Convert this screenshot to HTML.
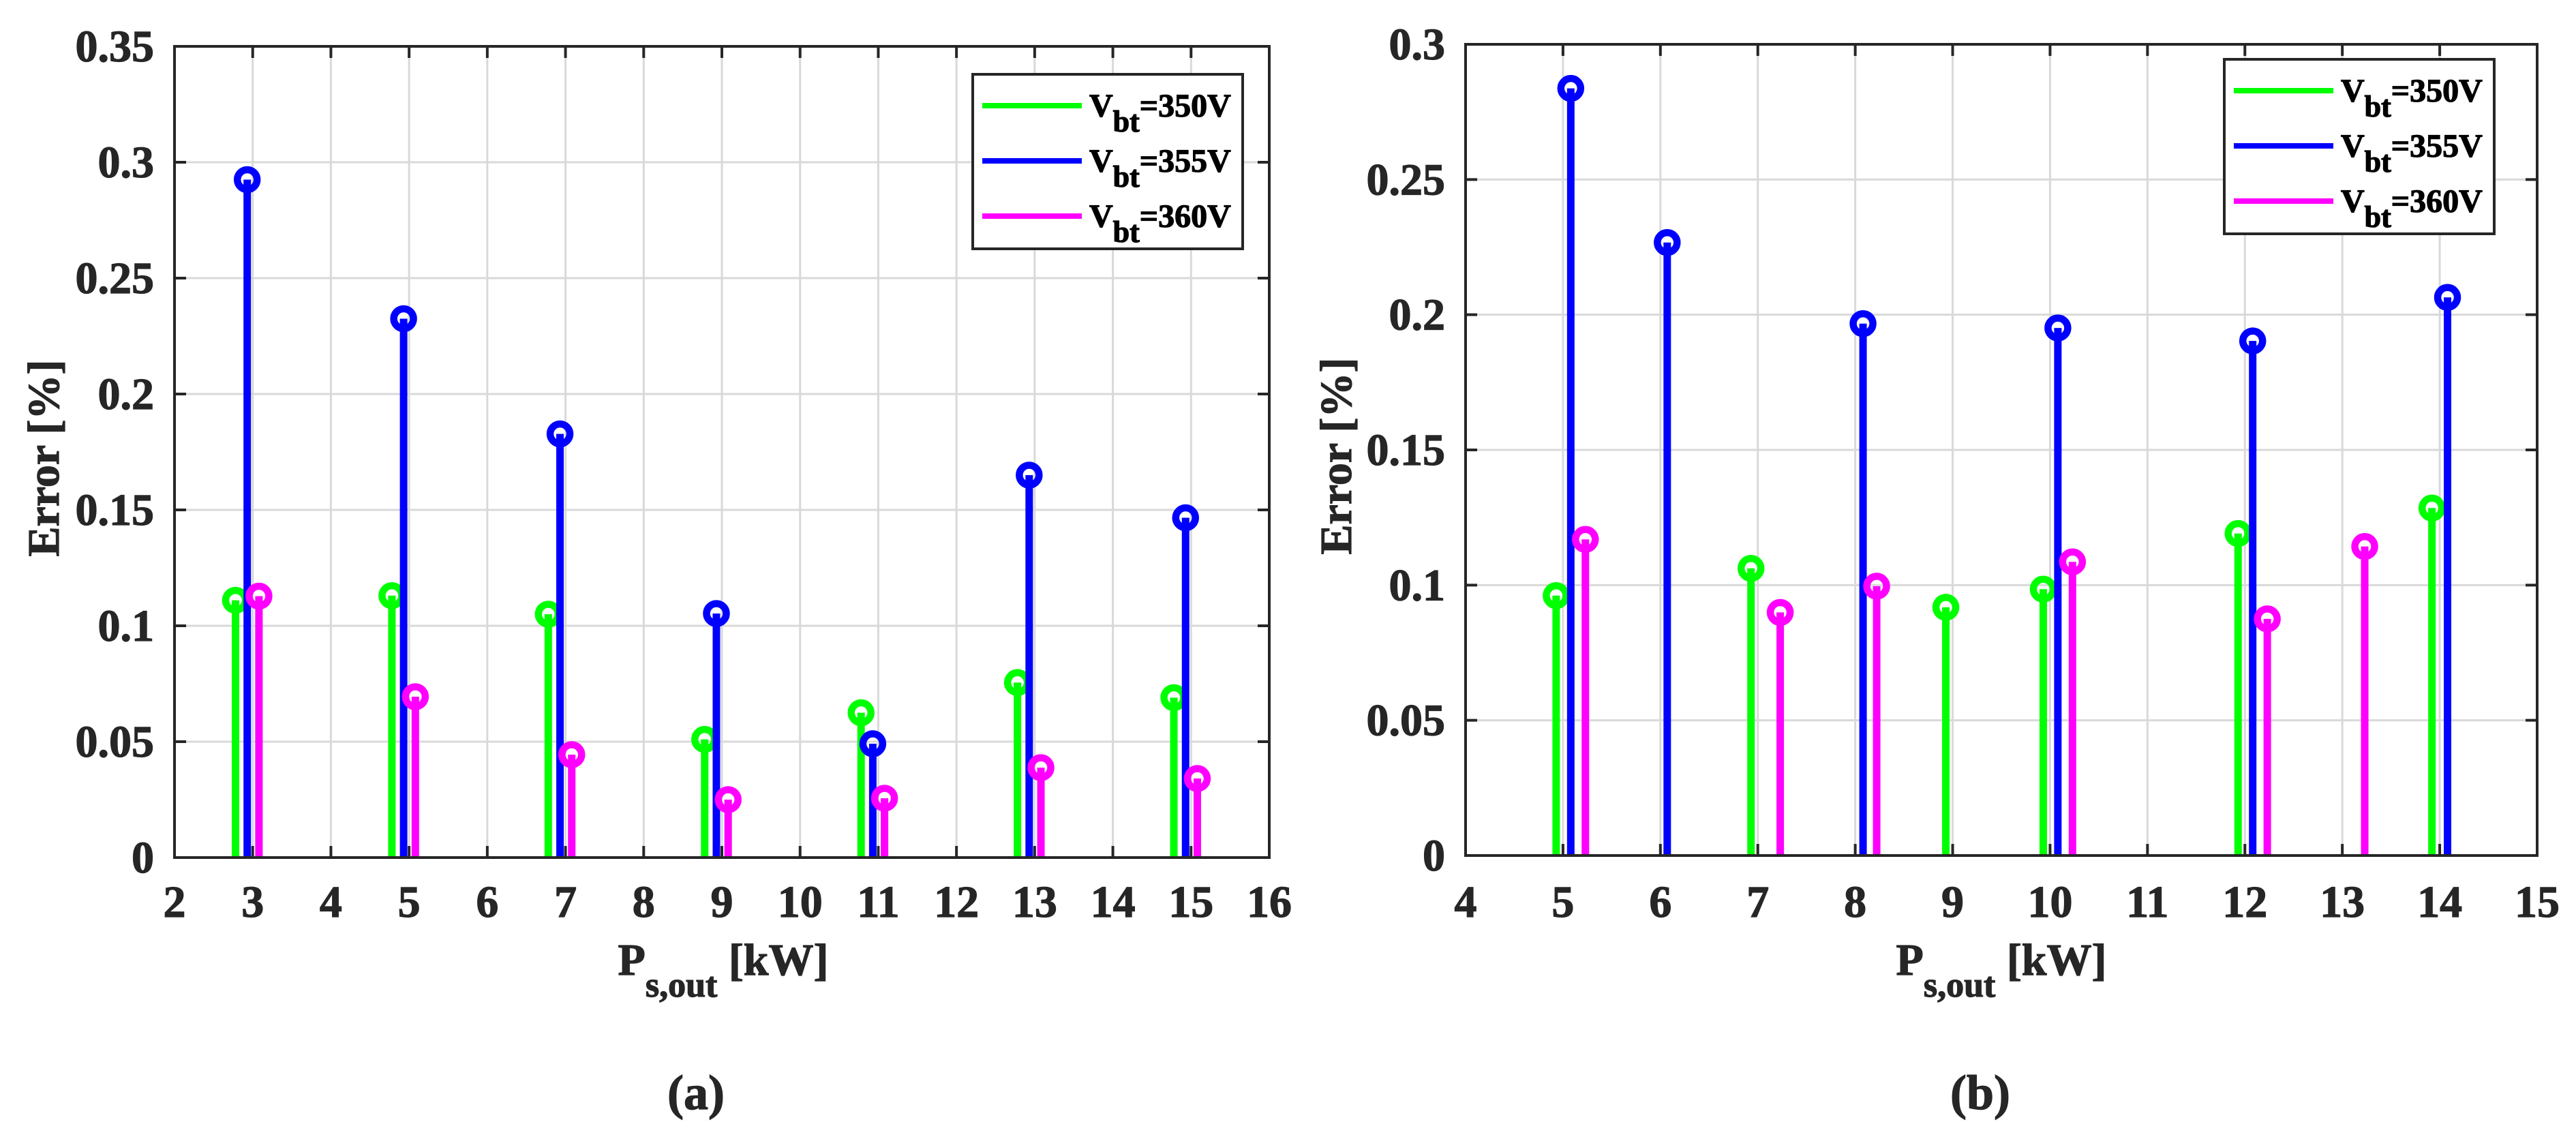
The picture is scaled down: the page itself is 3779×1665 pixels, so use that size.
<!DOCTYPE html>
<html><head><meta charset="utf-8">
<style>
html,body{margin:0;padding:0;background:#fff;}
svg{display:block;}
text{font-family:"Liberation Serif",serif;font-weight:bold;fill:#262626;stroke:#262626;stroke-width:1.2px;}
</style></head>
<body>
<svg id="fig" width="3779" height="1665" viewBox="0 0 3779 1665" xmlns="http://www.w3.org/2000/svg"></svg>
<script>
// ---- Panel (a) data ----
const aGreenX = [2.78, 4.78, 6.78, 8.78, 10.78, 12.78, 14.78];
const aGreenY = [0.111, 0.113, 0.105, 0.051, 0.0625, 0.0755, 0.069];
const aBlueX = [2.93, 4.93, 6.93, 8.93, 10.93, 12.93, 14.93];
const aBlueY = [0.2925, 0.2325, 0.1828, 0.1053, 0.0491, 0.165, 0.1466];
const aMagX = [3.08, 5.08, 7.08, 9.08, 11.08, 13.08, 15.08];
const aMagY = [0.1128, 0.0694, 0.0444, 0.025, 0.0256, 0.0388, 0.0341];
const aXTicks = [2,3,4,5,6,7,8,9,10,11,12,13,14,15,16];
const aYTicks = [0,0.05,0.1,0.15,0.2,0.25,0.3,0.35];
const aYLabels = ["0","0.05","0.1","0.15","0.2","0.25","0.3","0.35"];
// ---- Panel (b) data ----
const bGreenX = [4.93, 6.93, 8.93, 9.93, 11.93, 13.92];
const bGreenY = [0.0961, 0.1062, 0.0918, 0.0985, 0.1191, 0.1285];
const bBlueX = [5.08, 6.07, 8.08, 10.08, 12.08, 14.08];
const bBlueY = [0.2837, 0.2267, 0.1967, 0.1951, 0.1903, 0.2064];
const bMagX = [5.23, 7.23, 8.22, 10.23, 12.23, 13.23];
const bMagY = [0.1169, 0.0899, 0.0996, 0.1086, 0.0875, 0.1143];
const bXTicks = [4,5,6,7,8,9,10,11,12,13,14,15];
const bYTicks = [0,0.05,0.1,0.15,0.2,0.25,0.3];
const bYLabels = ["0","0.05","0.1","0.15","0.2","0.25","0.3"];
const legendLabels = ["350V","355V","360V"];

const NS = "http://www.w3.org/2000/svg";
const svg = document.getElementById("fig");
function mk(tag, attrs, parent) {
  const e = document.createElementNS(NS, tag);
  for (const k in attrs) e.setAttribute(k, attrs[k]);
  (parent || svg).appendChild(e);
  return e;
}
const COLORS = ["#00ff00", "#0000ff", "#ff00ff"];

function panel(cfg) {
  const g = mk("g", {});
  
  
  const {L, R, T, B, xmin, xmax, ymax} = cfg;
  const sx = v => L + (v - xmin) / (xmax - xmin) * (R - L);
  const sy = v => B - v / ymax * (B - T);
  cfg.xTicks.forEach(v => {
    const l = mk("line", {x1: sx(v), x2: sx(v), y1: T, y2: B, stroke: "#d9d9d9", "stroke-width": 3}, g);
    
    
  });
  cfg.yTicks.forEach(v => {
    const l = mk("line", {x1: L, x2: R, y1: sy(v), y2: sy(v), stroke: "#d9d9d9", "stroke-width": 3}, g);
    
    
  });
  cfg.xTicks.forEach(v => {
    mk("line", {x1: sx(v), x2: sx(v), y1: B, y2: B - 17, stroke: "#262626", "stroke-width": 4}, g);
    mk("line", {x1: sx(v), x2: sx(v), y1: T, y2: T + 17, stroke: "#262626", "stroke-width": 4}, g);
    const t = mk("text", {x: sx(v), y: 1345, "font-size": 66, "text-anchor": "middle"}, g);
    t.textContent = v;
    
    
  });
  cfg.yTicks.forEach((v, i) => {
    mk("line", {x1: L, x2: L + 17, y1: sy(v), y2: sy(v), stroke: "#262626", "stroke-width": 4}, g);
    mk("line", {x1: R, x2: R - 17, y1: sy(v), y2: sy(v), stroke: "#262626", "stroke-width": 4}, g);
    const t = mk("text", {x: L - 30, y: sy(v) + 22, "font-size": 66, "text-anchor": "end"}, g);
    t.textContent = cfg.yLabels[i];
    
    
  });
  cfg.series.forEach((s, si) => {
    s.x.forEach((xv, i) => {
      const cx = sx(xv), cy = sy(s.y[i]);
      const ln = mk("line", {x1: cx, x2: cx, y1: B, y2: cy, stroke: COLORS[si], "stroke-width": 11}, g);
      
      
      const c = mk("circle", {cx: cx, cy: cy, r: 14.5, fill: "none", stroke: COLORS[si], "stroke-width": 10.5}, g);
      
      
    });
  });
  const box = mk("rect", {x: L, y: T, width: R - L, height: B - T, fill: "none", stroke: "#262626", "stroke-width": 4}, g);
  
  
  const lg = mk("g", {}, g);
  
  
  const bx = cfg.legX, by = cfg.legY;
  mk("rect", {x: bx, y: by, width: 396, height: 256, fill: "#fff", stroke: "#262626", "stroke-width": 4}, lg);
  legendLabels.forEach((lab, i) => {
    const yy = by + 46 + i * 81;
    const ll = mk("line", {x1: bx + 14, x2: bx + 160, y1: yy, y2: yy, stroke: COLORS[i], "stroke-width": 8}, lg);
    
    
    const t = mk("text", {x: bx + 171, y: yy + 16, "font-size": 48}, lg);
    
    
    t.style.fill = "#000";
    t.style.stroke = "#000";
    const t1 = mk("tspan", {}, t); t1.textContent = "V";
    const t2 = mk("tspan", {dy: 22, "font-size": 44}, t); t2.textContent = "bt";
    const t3 = mk("tspan", {dy: -22}, t); t3.textContent = "=" + lab;
  });
  const xl = mk("text", {x: cfg.xlabX, y: 1430, "font-size": 66, "text-anchor": "middle"}, g);
  
  
  const p1 = mk("tspan", {}, xl); p1.textContent = "P";
  const p2 = mk("tspan", {dy: 32, "font-size": 52}, xl); p2.textContent = "s,out";
  const p3 = mk("tspan", {dy: -32}, xl); p3.textContent = " [kW]";
  const yl = mk("text", {x: 0, y: 0, "font-size": 66, "text-anchor": "middle", transform: `translate(${cfg.ylabX},${cfg.ylabY}) rotate(-90)`}, g);
  yl.textContent = "Error [%]";
  
  
  const cap = mk("text", {x: cfg.capX, y: 1627, "font-size": 72, "text-anchor": "middle"}, g);
  cap.textContent = cfg.caption;
  
  
}

panel({name: "panel-a", L: 256, R: 1862, T: 68, B: 1258, xmin: 2, xmax: 16, ymax: 0.35,
  xTicks: aXTicks, yTicks: aYTicks, yLabels: aYLabels,
  series: [{x: aGreenX, y: aGreenY}, {x: aBlueX, y: aBlueY}, {x: aMagX, y: aMagY}],
  legX: 1427, legY: 109, xlabX: 1061, ylabX: 86, ylabY: 672, capX: 1021, caption: "(a)"});
panel({name: "panel-b", L: 2150, R: 3722, T: 65, B: 1255, xmin: 4, xmax: 15, ymax: 0.3,
  xTicks: bXTicks, yTicks: bYTicks, yLabels: bYLabels,
  series: [{x: bGreenX, y: bGreenY}, {x: bBlueX, y: bBlueY}, {x: bMagX, y: bMagY}],
  legX: 3263, legY: 87, xlabX: 2936, ylabX: 1982, ylabY: 669, capX: 2905, caption: "(b)"});
</script>
</body></html>
